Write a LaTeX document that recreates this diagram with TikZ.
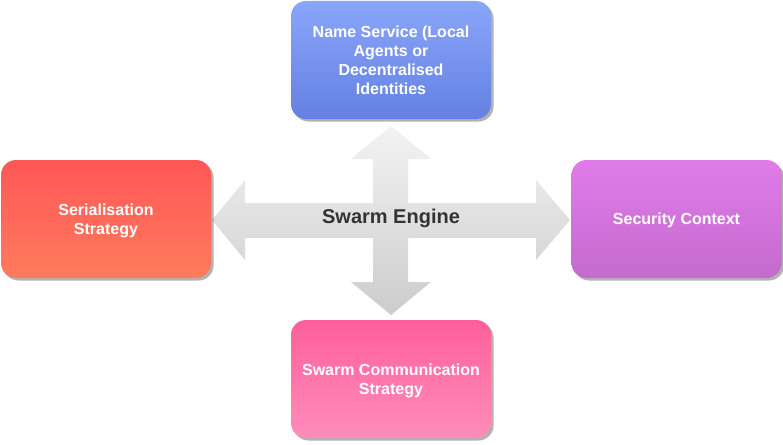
\documentclass[tikz,border=0pt]{standalone}
\usepackage{fontspec}
\setmainfont{Liberation Sans}
\usetikzlibrary{shadows}

\definecolor{blueTop}{HTML}{8AA5FA}
\definecolor{blueBot}{HTML}{6481E2}
\definecolor{redTop}{HTML}{FF5757}
\definecolor{redBot}{HTML}{FF7B5C}
\definecolor{violetTop}{HTML}{E07CE9}
\definecolor{violetBot}{HTML}{C46BCE}
\definecolor{pinkTop}{HTML}{FF5F9A}
\definecolor{pinkBot}{HTML}{FF8DBB}
\definecolor{crossTop}{HTML}{F3F3F3}
\definecolor{crossBot}{HTML}{CCCCCC}

\begin{document}
\begin{tikzpicture}[x=1pt,y=-1pt]
\tikzstyle{module}=[rounded corners=15pt,minimum width=200pt,minimum height=118pt,align=center,text=white,font=\fontsize{16}{19}\selectfont\bfseries,text depth=-6pt,drop shadow={shadow xshift=2.5pt,shadow yshift=-2.5pt,fill=black,opacity=0.3}]
\tikzstyle{wide module}=[module,minimum width=210pt]
\useasboundingbox (0,0) rectangle (783,444);

% Cruz central con flechas dobles
\shade[top color=crossTop,bottom color=crossBot]
(391,126) -- (431,159) -- (408,159) -- (408,203) -- (536,203) -- (536,180)
-- (570,220) -- (536,260) -- (536,238) -- (408,238) -- (408,282) -- (431,282)
-- (391,315) -- (351,282) -- (373,282) -- (373,238) -- (245,238) -- (245,260)
-- (212,220) -- (245,180) -- (245,203) -- (373,203) -- (373,159) -- (351,159) -- cycle;
\node[text=black!80,font=\fontsize{20}{24}\selectfont\bfseries,text depth=-3pt] (engine) at (391,216) {Swarm Engine};

% Cajas alrededor del motor
\node[module,text depth=-4pt,top color=blueTop,bottom color=blueBot] (name) at (391,60) {Name Service (Local\\Agents or\\Decentralised\\Identities};
\node[wide module,top color=redTop,bottom color=redBot] (serial) at (106,219) {Serialisation\\Strategy};
\node[wide module,top color=violetTop,bottom color=violetBot] (security) at (676.5,219) {Security Context};
\node[module,top color=pinkTop,bottom color=pinkBot] (comm) at (391,379) {Swarm Communication\\Strategy};
\end{tikzpicture}
\end{document}
